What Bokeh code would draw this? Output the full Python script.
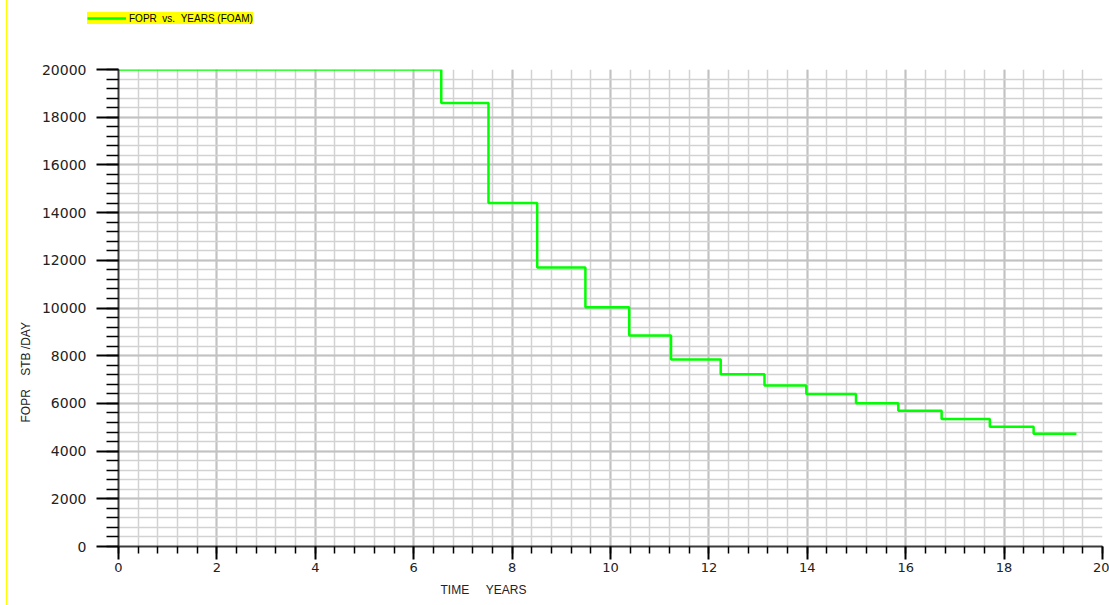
from bokeh.plotting import figure
from bokeh.layouts import column
from bokeh.models import (Range1d, SingleIntervalTicker, Legend, LegendItem,
                          Title)
from bokeh.embed import file_html
from bokeh.resources import INLINE

# Field oil production rate, stepped by report interval
step_years = [0.0, 6.56, 7.52, 8.51, 9.49, 10.38, 11.23, 12.24, 13.13,
              13.98, 14.99, 15.85, 16.73, 17.71, 18.60]
fopr = [20000, 18600, 14400, 11700, 10030, 8850, 7840, 7220, 6750,
        6390, 6010, 5690, 5350, 5025, 4730]
end_year = 19.47

series_label = "FOPR\u00a0\u00a0vs.\u00a0\u00a0YEARS (FOAM)"
x_title = "TIME\u00a0\u00a0\u00a0\u00a0\u00a0YEARS"
y_title = "FOPR\u00a0\u00a0\u00a0\u00a0STB\u00a0/DAY"

xs = step_years + [end_year]
ys = fopr + [fopr[-1]]

LINE_COLOR = "#00ff00"
LINE_WIDTH = 2.5
# thin yellow rule down the left edge of the page
PAGE_RULE = ("linear-gradient(to right, #ffffff 6px, #ffff00 6px, "
             "#ffff00 7.5px, #ffffff 7.5px)")

# --- strip above the chart holding the series key ---------------------------
# The series is drawn here too, but it lies far outside this strip's small
# y-range, so only its legend entry is visible.
key = figure(width=1109, height=30, output_backend="svg", toolbar_location=None,
             x_range=Range1d(0, 1109), y_range=Range1d(0, 30),
             x_axis_type=None, y_axis_type=None, min_border=0,
             min_border_left=0, min_border_right=0,
             min_border_top=0, min_border_bottom=0)
key.frame_align = False
key.outline_line_color = None
key.background_fill_color = None
key.border_fill_color = None
key.xgrid.visible = False
key.ygrid.visible = False
key.styles = {"background": PAGE_RULE}
key_line = key.step(xs, ys, mode="after", line_color=LINE_COLOR,
                    line_width=LINE_WIDTH)

legend = Legend(items=[LegendItem(label=series_label, renderers=[key_line])],
                location=(87, 6), orientation="horizontal",
                background_fill_color="#ffff00", background_fill_alpha=1.0,
                border_line_color=None, padding=1, margin=0, spacing=0,
                glyph_width=39, glyph_height=12, label_height=12,
                label_standoff=3, label_text_font="Liberation Sans",
                label_text_font_size="10px", label_text_color="black")
key.add_layout(legend)

# --- main chart ---------------------------------------------------------------
p = figure(width=1109, height=575, output_backend="svg", toolbar_location=None,
           x_range=Range1d(0, 20), y_range=Range1d(0, 20000),
           min_border_left=118, min_border_right=7,
           min_border_top=39, min_border_bottom=59)
p.frame_align = False
p.outline_line_color = None
p.background_fill_color = "white"
p.border_fill_color = None
p.styles = {"background": PAGE_RULE}

p.xaxis.ticker = SingleIntervalTicker(interval=2, num_minor_ticks=5)
p.yaxis.ticker = SingleIntervalTicker(interval=2000, num_minor_ticks=5)

# grid: light minor mesh with slightly stronger major lines
for g in (p.xgrid, p.ygrid):
    g.grid_line_color = "#c2c2c2"
    g.grid_line_width = 2
    g.minor_grid_line_color = "#d2d2d2"
    g.minor_grid_line_width = 1.5

# axes
for ax in (p.xaxis, p.yaxis):
    ax.axis_line_color = "#3a3a3a"
    ax.axis_line_width = 2
    ax.major_tick_line_color = "black"
    ax.major_tick_line_width = 2
    ax.minor_tick_line_color = "black"
    ax.minor_tick_line_width = 1.5
    ax.major_tick_in = 0
    ax.minor_tick_in = 0
    ax.major_label_text_font = "DejaVu Sans"
    ax.major_label_text_color = "#222222"

p.yaxis.major_tick_out = 22
p.yaxis.minor_tick_out = 12
p.yaxis.major_label_standoff = 10
p.yaxis.major_label_text_font_size = "14px"

p.xaxis.major_tick_out = 13
p.xaxis.minor_tick_out = 7
p.xaxis.major_label_standoff = 3
p.xaxis.major_label_text_font_size = "13px"

p.step(xs, ys, mode="after", line_color=LINE_COLOR, line_width=LINE_WIDTH)

# axis titles in the side panels
p.add_layout(Title(text=x_title, align="left", offset=322, standoff=13,
                   text_font="Liberation Sans", text_font_size="12px",
                   text_font_style="normal", text_color="#222222"), "below")
p.add_layout(Title(text=y_title, align="left", offset=124, standoff=11,
                   text_font="Liberation Sans", text_font_size="12px",
                   text_font_style="normal", text_color="#222222"), "left")

layout = column(key, p, spacing=0)
open("out.html", "w").write(file_html(layout, INLINE))
